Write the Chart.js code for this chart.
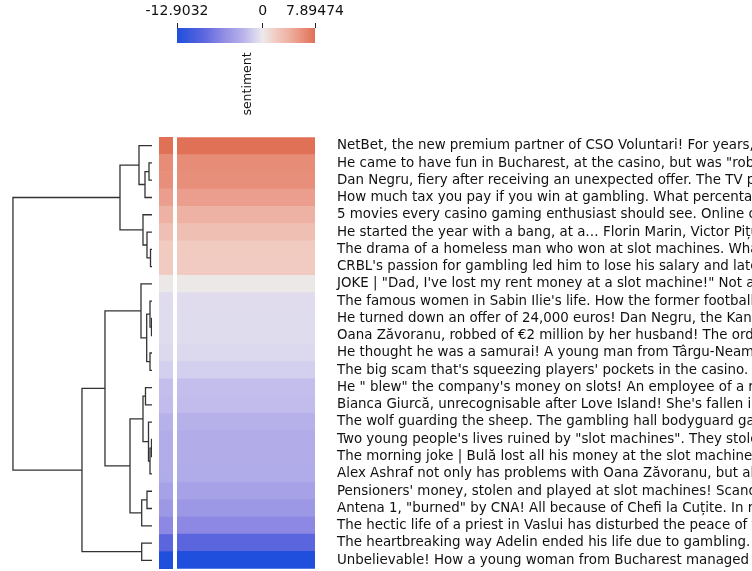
<!DOCTYPE html>
<html>
<head>
<meta charset="utf-8">
<script src="https://cdn.jsdelivr.net/npm/chart.js@4.4.1/dist/chart.umd.min.js"></script>
<style>
    html, body { margin: 0; padding: 0; background: #fff; }
    #wrap { position: relative; width: 752px; height: 571px; overflow: hidden; }
    canvas { position: absolute; }
</style>
</head>
<body>
<div id="wrap">
    <canvas id="cbar" width="752" height="130" style="left:0;top:0"></canvas>
    <canvas id="tree" width="160" height="571" style="left:0;top:0"></canvas>
    <canvas id="strip" width="14" height="432" style="left:159px;top:137px"></canvas>
    <canvas id="heat" width="575" height="432" style="left:177px;top:137px"></canvas>
</div>
<script>
// ─── Data ─────────────────────────────────────────────────────────────────
const titles = [
    `NetBet, the new premium partner of CSO Voluntari! For years, the club`,
    `He came to have fun in Bucharest, at the casino, but was "robbed"`,
    `Dan Negru, fiery after receiving an unexpected offer. The TV presenter`,
    `How much tax you pay if you win at gambling. What percentage`,
    `5 movies every casino gaming enthusiast should see. Online casino`,
    `He started the year with a bang, at a… Florin Marin, Victor Pițurcă`,
    `The drama of a homeless man who won at slot machines. What`,
    `CRBL's passion for gambling led him to lose his salary and later`,
    `JOKE | "Dad, I've lost my rent money at a slot machine!" Not a`,
    `The famous women in Sabin Ilie's life. How the former footballer`,
    `He turned down an offer of 24,000 euros! Dan Negru, the Kanal D`,
    `Oana Zăvoranu, robbed of €2 million by her husband! The order`,
    `He thought he was a samurai! A young man from Târgu-Neamț`,
    `The big scam that's squeezing players' pockets in the casino. What`,
    `He " blew" the company's money on slots! An employee of a real`,
    `Bianca Giurcă, unrecognisable after Love Island! She's fallen in`,
    `The wolf guarding the sheep. The gambling hall bodyguard gang`,
    `Two young people's lives ruined by "slot machines". They stole`,
    `The morning joke | Bulă lost all his money at the slot machine. Do`,
    `Alex Ashraf not only has problems with Oana Zăvoranu, but also`,
    `Pensioners' money, stolen and played at slot machines! Scandal`,
    `Antena 1, "burned" by CNA! All because of Chefi la Cuțite. In reality`,
    `The hectic life of a priest in Vaslui has disturbed the peace of the`,
    `The heartbreaking way Adelin ended his life due to gambling. He`,
    `Unbelievable! How a young woman from Bucharest managed to`
];

const sentiment = [
    7.89474, 6.2, 6.0, 5.1, 3.9, 2.9, 2.1, 2.0, 0.1,
    -0.7, -0.75, -0.75, -0.9, -1.4, -2.3, -2.4,
    -3.0, -3.4, -3.4, -3.5, -4.2, -5.0, -6.2, -9.0, -12.9032
];

const cbarTicks = [-12.9032, 0, 7.89474];
const cbarTickLabels = ['-12.9032', '0', '7.89474'];

// row linkage: [left, right, distance]; ids >= 25 point to earlier merges
const linkage = [
    [1, 2, 3], [25, 3, 7], [0, 26, 13],
    [6, 7, 1.5], [5, 28, 5], [4, 29, 9], [27, 30, 32],
    [10, 11, 0.5], [9, 32, 2], [12, 13, 2], [33, 34, 5.3], [8, 35, 11],
    [14, 15, 6.5], [17, 18, 0.5], [38, 19, 2], [16, 39, 3.5], [37, 40, 9],
    [20, 21, 5], [42, 22, 10.3], [41, 43, 22], [36, 44, 47],
    [23, 24, 10.3], [45, 46, 70], [31, 47, 139]
];

// ─── Colour map (diverging, light centre) ─────────────────────────────────
const cmapValues = [-12.9032, -9, -6, -3, -1, 0, 2, 4, 6, 7.89474];
const cmapColors = ['#1f4fdc', '#5b65de', '#8f8be3', '#b7b1ea', '#dad7ef',
                    '#ede9ea', '#f1cbc2', '#eeb1a2', '#e88f7b', '#e07056'];

function hexToRgb(h) {
    return [1, 3, 5].map(i => parseInt(h.slice(i, i + 2), 16));
}

function colorFor(v) {
    if (v <= cmapValues[0]) return cmapColors[0];
    for (let i = 1; i < cmapValues.length; i++) {
        if (v <= cmapValues[i]) {
            const t = (v - cmapValues[i - 1]) / (cmapValues[i] - cmapValues[i - 1]);
            const a = hexToRgb(cmapColors[i - 1]);
            const b = hexToRgb(cmapColors[i]);
            const c = a.map((x, k) => Math.round(x + (b[k] - x) * t));
            return `rgb(${c[0]},${c[1]},${c[2]})`;
        }
    }
    return cmapColors[cmapColors.length - 1];
}

const vmin = Math.min(...sentiment);
const vmax = Math.max(...sentiment);
const TEXT = '#111';
const FONT = "'DejaVu Sans', sans-serif";

Chart.defaults.font.family = FONT;
Chart.defaults.font.size = 13.4;
Chart.defaults.color = TEXT;

const noPlugins = { legend: { display: false }, tooltip: { enabled: false } };

// ─── Colour bar ───────────────────────────────────────────────────────────
new Chart(document.getElementById('cbar'), {
    type: 'bar',
    data: {
        labels: ['sentiment'],
        datasets: [{
            data: [[vmin, vmax]],
            backgroundColor: (ctx) => {
                const area = ctx.chart.chartArea;
                if (!area) return cmapColors[0];
                const g = ctx.chart.ctx.createLinearGradient(area.left, 0, area.right, 0);
                cmapValues.forEach((v, i) => {
                    const p = Math.min(1, Math.max(0, (v - vmin) / (vmax - vmin)));
                    g.addColorStop(p, cmapColors[i]);
                });
                return g;
            },
            borderWidth: 0,
            barPercentage: 1,
            categoryPercentage: 1
        }]
    },
    options: {
        indexAxis: 'y',
        responsive: false,
        animation: false,
        plugins: noPlugins,
        layout: { autoPadding: false, padding: { left: 177, right: 437, top: 0, bottom: 87 } },
        scales: {
            x: {
                position: 'top',
                min: vmin,
                max: vmax,
                afterBuildTicks: (axis) => { axis.ticks = cbarTicks.map(v => ({ value: v })); },
                afterFit: (axis) => { axis.height = 28; },
                ticks: {
                    callback: (v, i) => cbarTickLabels[i],
                    autoSkip: false,
                    maxRotation: 0,
                    padding: 3,
                    color: TEXT,
                    font: { size: 14 }
                },
                grid: { drawOnChartArea: false, tickLength: 5, color: '#222' },
                border: { display: false }
            },
            y: { display: false }
        }
    },
    plugins: [{
        id: 'cbarLabel',
        afterDraw(chart) {
            const { ctx, chartArea } = chart;
            ctx.save();
            ctx.translate((chartArea.left + chartArea.right) / 2 + 2, chartArea.bottom + 41);
            ctx.rotate(-Math.PI / 2);
            ctx.textAlign = 'center';
            ctx.textBaseline = 'middle';
            ctx.fillStyle = TEXT;
            ctx.font = `12.5px ${FONT}`;
            ctx.fillText('sentiment', 0, 0);
            ctx.restore();
        }
    }]
});

// ─── Row dendrogram ───────────────────────────────────────────────────────
const nodeY = titles.map((_, i) => i + 0.5);
const nodeH = titles.map(() => 0);
const treeSets = linkage.map(([a, b, h]) => {
    nodeY.push((nodeY[a] + nodeY[b]) / 2);
    nodeH.push(h);
    return {
        data: [
            { x: nodeH[a], y: nodeY[a] },
            { x: h, y: nodeY[a] },
            { x: h, y: nodeY[b] },
            { x: nodeH[b], y: nodeY[b] }
        ],
        showLine: true,
        borderColor: '#333',
        borderWidth: 1.3,
        pointRadius: 0,
        fill: false
    };
});

new Chart(document.getElementById('tree'), {
    type: 'scatter',
    data: { datasets: treeSets },
    options: {
        responsive: false,
        animation: false,
        plugins: noPlugins,
        layout: { autoPadding: false, padding: { left: 6, right: 8, top: 137, bottom: 2 } },
        scales: {
            x: { type: 'linear', reverse: true, min: 0, max: Math.max(...nodeH) * 1.05, display: false },
            y: { type: 'linear', reverse: true, min: 0, max: titles.length, display: false }
        }
    }
});

// ─── Heatmap cells ────────────────────────────────────────────────────────
function cellChart(id, showLabels) {
    // tiny lineHeight keeps the axis from padding the rows
    const yAxis = showLabels ? {
        position: 'right',
        grid: { display: true, drawOnChartArea: false, drawTicks: true, tickLength: 22, color: 'rgba(0,0,0,0)' },
        border: { display: false },
        ticks: { autoSkip: false, padding: 0, color: TEXT, font: { lineHeight: 0.05 } },
        afterFit: (axis) => { axis.width = 437; }
    } : { display: false };

    return new Chart(document.getElementById(id), {
        type: 'bar',
        data: {
            labels: titles,
            datasets: [{
                data: sentiment.map(() => 1),
                backgroundColor: sentiment.map(colorFor),
                borderWidth: 0,
                barPercentage: 1,
                categoryPercentage: 1
            }]
        },
        options: {
            indexAxis: 'y',
            responsive: false,
            animation: false,
            plugins: noPlugins,
            layout: { autoPadding: false, padding: 0 },
            scales: {
                x: { display: false, min: 0, max: 1 },
                y: yAxis
            }
        }
    });
}

cellChart('strip', false);
cellChart('heat', true);
</script>
</body>
</html>
